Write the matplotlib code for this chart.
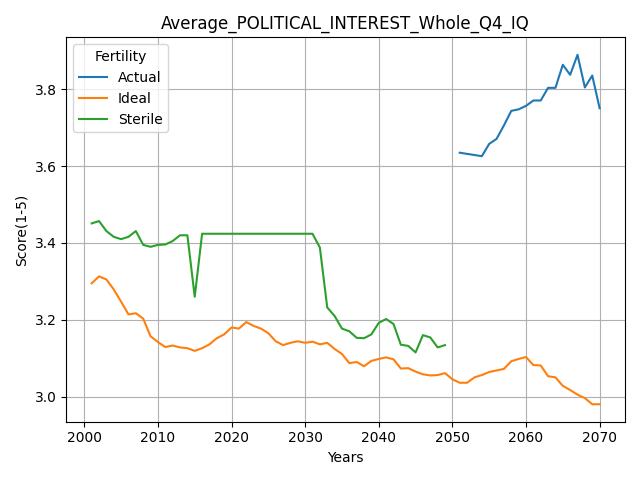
import numpy as np
import matplotlib
matplotlib.use("Agg")
import matplotlib.pyplot as plt

# Actual
actual_years = [2051, 2054, 2055, 2056, 2057, 2058, 2059, 2060, 2061, 2062,
                2063, 2064, 2065, 2066, 2067, 2068, 2069, 2070]
actual_vals = [3.635, 3.626, 3.658, 3.671, 3.706, 3.744, 3.748, 3.757, 3.771, 3.771,
               3.804, 3.804, 3.864, 3.838, 3.890, 3.805, 3.836, 3.751]

# Ideal
ideal_years = list(range(2001, 2071))
ideal_vals = [3.295, 3.313, 3.305, 3.279, 3.247, 3.214, 3.217, 3.203, 3.157, 3.142,
              3.129, 3.133, 3.128, 3.126, 3.119, 3.126, 3.136, 3.152, 3.162, 3.180,
              3.177, 3.194, 3.184, 3.177, 3.165, 3.144, 3.134, 3.140, 3.144, 3.140,
              3.143, 3.136, 3.140, 3.124, 3.111, 3.087, 3.090, 3.079, 3.093, 3.098,
              3.102, 3.097, 3.073, 3.074, 3.065, 3.058, 3.055, 3.056, 3.061, 3.045,
              3.036, 3.036, 3.050, 3.056, 3.064, 3.068, 3.072, 3.092, 3.098, 3.103,
              3.082, 3.081, 3.053, 3.050, 3.028, 3.017, 3.005, 2.996, 2.980, 2.980]

# Sterile
sterile_years = list(range(2001, 2050))
sterile_vals = [3.451, 3.457, 3.431, 3.416, 3.410, 3.416, 3.431, 3.395, 3.390, 3.395,
                3.396, 3.405, 3.420, 3.420, 3.260, 3.424, 3.424, 3.424, 3.424, 3.424,
                3.424, 3.424, 3.424, 3.424, 3.424, 3.424, 3.424, 3.424, 3.424, 3.424,
                3.424, 3.388, 3.232, 3.210, 3.177, 3.170, 3.153, 3.152, 3.162, 3.192,
                3.202, 3.189, 3.135, 3.132, 3.115, 3.160, 3.154, 3.128, 3.134]

fig, ax = plt.subplots(figsize=(6.4, 4.8), dpi=100)
ax.plot(actual_years, actual_vals, label='Actual')
ax.plot(ideal_years, ideal_vals, label='Ideal')
ax.plot(sterile_years, sterile_vals, label='Sterile')

ax.set_title('Average_POLITICAL_INTEREST_Whole_Q4_IQ')
ax.set_xlabel('Years')
ax.set_ylabel('Score(1-5)')
ax.grid(True)
ax.legend(title='Fertility', loc='upper left')

plt.tight_layout()
plt.savefig('out.png')
